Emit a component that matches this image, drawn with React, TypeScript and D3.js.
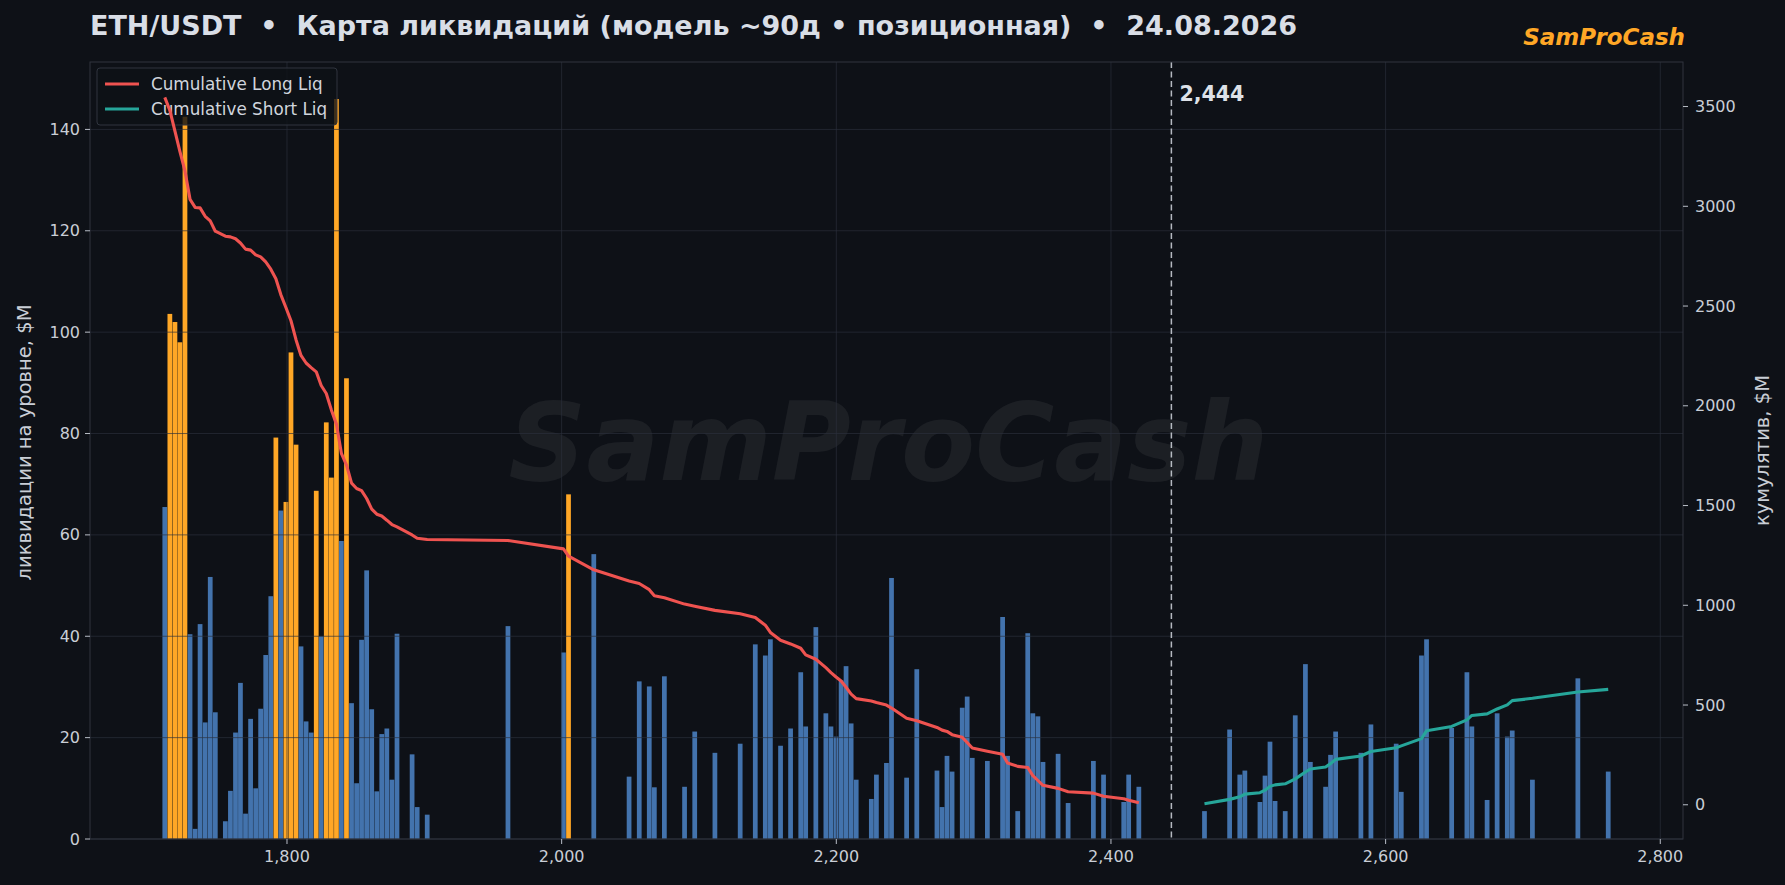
import { useEffect } from 'react';
import * as d3 from 'd3';

// liquidation map, ETH/USDT
const CURRENT_PRICE = 2444;
const HOT_LEVEL = 66; // levels at or above this are highlighted
const BAR_WIDTH = 3.45; // price units

const longPrices = [
  1711.0, 1714.7, 1718.4, 1722.0, 1725.7, 1729.4, 1733.1, 1736.7, 1740.4, 1744.1,
  1747.8, 1755.1, 1758.8, 1762.5, 1766.1, 1769.8, 1773.5, 1777.2, 1780.8, 1784.5,
  1788.2, 1791.9, 1795.5, 1799.2, 1802.9, 1806.6, 1810.2, 1813.9, 1817.6, 1821.3,
  1824.9, 1828.6, 1832.3, 1836.0, 1839.6, 1843.3, 1847.0, 1850.7, 1854.3, 1858.0,
  1861.7, 1865.4, 1869.0, 1872.7, 1876.4, 1880.1, 1891.1, 1894.8, 1902.1, 1960.9,
  2001.3, 2005.0, 2023.4, 2049.1, 2056.5, 2063.8, 2067.5, 2074.8, 2089.5, 2096.9,
  2111.6, 2130.0, 2141.0, 2148.3, 2152.0, 2159.4, 2166.7, 2174.1, 2177.7, 2185.1,
  2192.4, 2196.1, 2199.8, 2203.5, 2207.1, 2210.8, 2214.5, 2225.5, 2229.2, 2236.5,
  2240.2, 2251.2, 2258.6, 2273.3, 2277.0, 2280.6, 2284.3, 2291.7, 2295.3, 2299.0,
  2310.0, 2321.1, 2324.7, 2332.1, 2339.4, 2343.1, 2346.8, 2350.5, 2361.5, 2368.8,
  2387.2, 2394.6, 2409.3, 2412.9, 2420.3,
];
const longValues = [
  65.5, 103.6, 102, 98, 142.5, 40.4, 2, 42.4, 23, 51.7,
  25, 3.5, 9.5, 21, 30.8, 5, 23.7, 10, 25.7, 36.3,
  47.9, 79.2, 64.8, 66.5, 96, 77.8, 38, 23.2, 21, 68.7,
  40, 82.2, 71.3, 146, 58.8, 90.9, 26.8, 11, 39.3, 53,
  25.6, 9.4, 20.7, 21.8, 11.7, 40.5, 16.7, 6.3, 4.8, 42,
  36.8, 68, 56.2, 12.3, 31.1, 30.1, 10.2, 32.1, 10.3, 21.2,
  17, 18.8, 38.4, 36.2, 39.4, 18.4, 21.8, 32.9, 22.2, 41.8,
  24.8, 22.2, 20.2, 31.3, 34.1, 22.8, 11.7, 7.9, 12.7, 15,
  51.5, 12.1, 33.5, 13.5, 6.3, 16.4, 13.3, 25.9, 28.1, 16,
  15.4, 43.8, 16.4, 5.5, 40.6, 24.8, 24.2, 15.2, 16.8, 7.1,
  15.4, 12.7, 7.3, 12.7, 10.3,
];

const shortPrices = [
  2468.1, 2486.4, 2493.8, 2497.5, 2508.5, 2512.2, 2515.8, 2519.5, 2526.9, 2534.2,
  2541.6, 2545.2, 2556.3, 2559.9, 2563.6, 2582.0, 2589.3, 2607.7, 2611.4, 2626.1,
  2629.8, 2648.1, 2659.2, 2662.8, 2673.9, 2681.2, 2688.6, 2692.2, 2706.9, 2740.0,
  2762.1,
];
const shortValues = [
  5.5, 21.6, 12.7, 13.5, 7.3, 12.5, 19.2, 7.5, 5.5, 24.4,
  34.5, 15.2, 10.3, 16.6, 21.2, 17, 22.6, 18.8, 9.3, 36.2,
  39.4, 21.9, 32.9, 22.2, 7.7, 24.8, 20.2, 21.4, 11.7, 31.7,
  13.3,
];

const xTicks = [1800, 2000, 2200, 2400, 2600, 2800];
const leftTicks = [0, 20, 40, 60, 80, 100, 120, 140];
const rightTicks = [0, 500, 1000, 1500, 2000, 2500, 3000, 3500];

const TITLE =
  'ETH/USDT  •  Карта ликвидаций (модель ~90д • позиционная)  •  24.08.2026';

const W = 1785;
const H = 885;
const box = { left: 90, right: 1683, top: 62, bottom: 839 };

const BG = '#0e1117';
const BLUE = '#4373ad';
const ORANGE = '#ffa726';
const RED = '#ef5350';
const TEAL = '#26a69a';
const GRID = '#2b303b';
const SPINE = '#30353f';
const TEXT = '#c9ced6';
const FONT = '"DejaVu Sans", Verdana, sans-serif';

const App = () => {
  useEffect(() => {
    document.body.style.margin = '0';
    document.body.style.background = BG;
  }, []);

  // cumulative long: from current price downwards; short: upwards
  const longOrder = d3.range(longPrices.length).sort((a, b) => longPrices[b] - longPrices[a]);
  const longCum = d3.cumsum(longOrder.map((i) => longValues[i]));
  const longPts: [number, number][] = longOrder.map((i, k) => [longPrices[i], longCum[k]]);
  const shortCum = d3.cumsum(shortValues);
  const shortPts: [number, number][] = shortPrices.map((p, k) => [p, shortCum[k]]);

  const half = BAR_WIDTH / 2;
  const x0 = (d3.min(longPrices) ?? 0) - half;
  const x1 = (d3.max(shortPrices) ?? 0) + half;
  const xPad = (x1 - x0) * 0.05;
  const x = d3.scaleLinear().domain([x0 - xPad, x1 + xPad]).range([box.left, box.right]);

  const vMax = Math.max(d3.max(longValues) ?? 0, d3.max(shortValues) ?? 0);
  const y = d3.scaleLinear().domain([0, vMax * 1.05]).range([box.bottom, box.top]);

  const cAll = [...longCum, ...shortCum];
  const c0 = d3.min(cAll) ?? 0;
  const c1 = d3.max(cAll) ?? 1;
  const cPad = (c1 - c0) * 0.05;
  const y2 = d3.scaleLinear().domain([c0 - cPad, c1 + cPad]).range([box.bottom, box.top]);

  const line = d3
    .line<[number, number]>()
    .x((d) => x(d[0]))
    .y((d) => y2(d[1]));

  const bars = [
    ...longPrices.map((p, i) => ({ p, v: longValues[i] })),
    ...shortPrices.map((p, i) => ({ p, v: shortValues[i] })),
  ];

  const fmt = d3.format(',');
  const cx = x(CURRENT_PRICE);

  return (
    <svg width={W} height={H} style={{ display: 'block', background: BG }} fontFamily={FONT}>
      <rect x={0} y={0} width={W} height={H} fill={BG} />

      {/* watermark */}
      <text
        x={(box.left + box.right) / 2 + 2}
        y={(box.top + box.bottom) / 2 - 8}
        textAnchor="middle"
        dominantBaseline="central"
        fontSize={108}
        fontWeight="bold"
        fontStyle="italic"
        fill="#ffffff"
        fillOpacity={0.06}
      >
        SamProCash
      </text>

      {/* bars */}
      <g>
        {bars.map((b, i) => (
          <rect
            key={i}
            x={x(b.p - half)}
            width={x(b.p + half) - x(b.p - half)}
            y={y(b.v)}
            height={y(0) - y(b.v)}
            fill={b.v >= HOT_LEVEL ? ORANGE : BLUE}
          />
        ))}
      </g>

      {/* grid */}
      <g stroke={GRID} strokeWidth={0.9} strokeOpacity={0.75}>
        {leftTicks.map((t) => (
          <line key={`h${t}`} x1={box.left} x2={box.right} y1={y(t)} y2={y(t)} />
        ))}
        {xTicks.map((t) => (
          <line key={`v${t}`} x1={x(t)} x2={x(t)} y1={box.top} y2={box.bottom} />
        ))}
      </g>

      {/* current price */}
      <line
        x1={cx}
        x2={cx}
        y1={box.top}
        y2={box.bottom}
        stroke="#c8ccd4"
        strokeWidth={1.5}
        strokeDasharray="6 3.5"
        strokeOpacity={0.9}
      />
      <text x={cx + 8} y={101} fontSize={20.5} fontWeight="bold" fill="#dde1e8">
        {fmt(CURRENT_PRICE)}
      </text>

      {/* spines */}
      <rect
        x={box.left}
        y={box.top}
        width={box.right - box.left}
        height={box.bottom - box.top}
        fill="none"
        stroke={SPINE}
        strokeWidth={1}
      />

      {/* x axis */}
      <g fontSize={16} fill={TEXT}>
        {xTicks.map((t) => (
          <g key={t}>
            <line x1={x(t)} x2={x(t)} y1={box.bottom} y2={box.bottom + 5} stroke="#b9bec7" />
            <text x={x(t)} y={box.bottom + 23} textAnchor="middle">
              {fmt(t)}
            </text>
          </g>
        ))}
      </g>

      {/* left axis */}
      <g fontSize={16} fill={TEXT}>
        {leftTicks.map((t) => (
          <g key={t}>
            <line x1={box.left - 5} x2={box.left} y1={y(t)} y2={y(t)} stroke="#b9bec7" />
            <text x={box.left - 10} y={y(t)} textAnchor="end" dominantBaseline="central">
              {t}
            </text>
          </g>
        ))}
      </g>

      {/* right axis */}
      <g fontSize={16} fill={TEXT}>
        {rightTicks.map((t) => (
          <g key={t}>
            <line x1={box.right} x2={box.right + 5} y1={y2(t)} y2={y2(t)} stroke="#b9bec7" />
            <text x={box.right + 12} y={y2(t)} dominantBaseline="central">
              {t}
            </text>
          </g>
        ))}
      </g>

      <text
        transform={`translate(24, ${(box.top + box.bottom) / 2 - 8}) rotate(-90)`}
        textAnchor="middle"
        dominantBaseline="central"
        fontSize={19.5}
        fill={TEXT}
      >
        ликвидации на уровне, $M
      </text>
      <text
        transform={`translate(1762, ${(box.top + box.bottom) / 2}) rotate(-90)`}
        textAnchor="middle"
        dominantBaseline="central"
        fontSize={19.5}
        fill={TEXT}
      >
        кумулятив, $M
      </text>

      {/* legend (belongs to the bar axes, so the lines go over it) */}
      <g>
        <rect x={97} y={68} width={240} height={57} rx={3} fill={BG} fillOpacity={0.8} stroke={SPINE} />
        <line x1={105} x2={139} y1={84} y2={84} stroke={RED} strokeWidth={3} />
        <line x1={105} x2={139} y1={109} y2={109} stroke={TEAL} strokeWidth={3} />
        <text x={151} y={84} dominantBaseline="central" fontSize={16.8} fill="#d0d5dd">
          Cumulative Long Liq
        </text>
        <text x={151} y={109} dominantBaseline="central" fontSize={16.8} fill="#d0d5dd">
          Cumulative Short Liq
        </text>
      </g>

      {/* cumulative lines */}
      <path d={line(longPts) ?? ''} fill="none" stroke={RED} strokeWidth={3.1} strokeLinejoin="round" />
      <path d={line(shortPts) ?? ''} fill="none" stroke={TEAL} strokeWidth={3.1} strokeLinejoin="round" />

      {/* titles */}
      <text x={box.left} y={35} fontSize={27} fontWeight="bold" fill="#d9dee6" style={{ whiteSpace: 'pre' }}>
        {TITLE}
      </text>
      <text
        x={box.right + 2}
        y={45}
        textAnchor="end"
        fontSize={23}
        fontWeight="bold"
        fontStyle="italic"
        fill={ORANGE}
      >
        SamProCash
      </text>
    </svg>
  );
};

export default App;
